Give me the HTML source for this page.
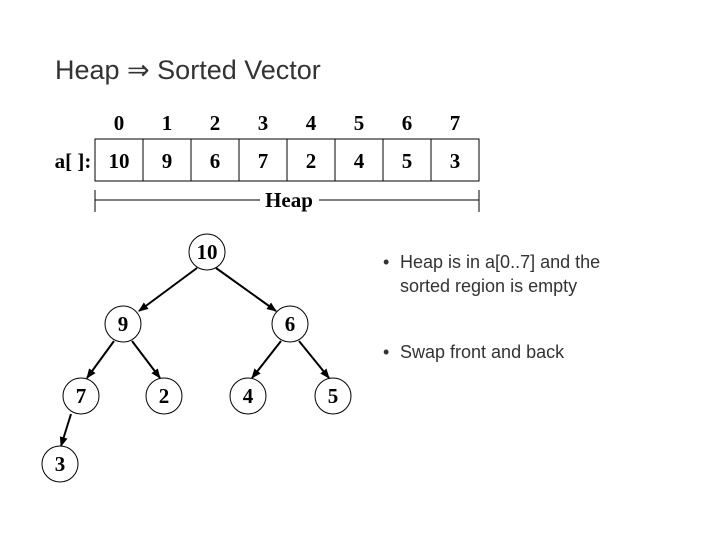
<!DOCTYPE html>
<html><head><style>
body{margin:0;width:720px;height:540px;background:#fff;overflow:hidden}
</style></head><body>
<svg width="720" height="540" xmlns="http://www.w3.org/2000/svg">
<defs><marker id="a" markerWidth="10" markerHeight="8" refX="9" refY="4" orient="auto" markerUnits="userSpaceOnUse"><path d="M0,0 L10,4 L0,8 z" fill="#000"/></marker></defs>
<text x="55" y="79" font-family="Liberation Sans, sans-serif" font-size="27" fill="#333">Heap ⇒ Sorted Vector</text>
<g font-family="Liberation Serif, serif" font-weight="bold" font-size="21" text-anchor="middle" fill="#000">
<text x="119" y="130">0</text><text x="167" y="130">1</text><text x="215" y="130">2</text><text x="263" y="130">3</text><text x="311" y="130">4</text><text x="359" y="130">5</text><text x="407" y="130">6</text><text x="455" y="130">7</text>
<text x="73" y="168">a[ ]:</text>
<text x="119" y="168">10</text><text x="167" y="168">9</text><text x="215" y="168">6</text><text x="263" y="168">7</text><text x="311" y="168">2</text><text x="359" y="168">4</text><text x="407" y="168">5</text><text x="455" y="168">3</text>
<text x="289" y="207">Heap</text>
</g>
<g stroke="#000" stroke-width="1" fill="none">
<rect x="95" y="139" width="384" height="42"/>
<line x1="143" y1="139" x2="143" y2="181"/><line x1="191" y1="139" x2="191" y2="181"/><line x1="239" y1="139" x2="239" y2="181"/><line x1="287" y1="139" x2="287" y2="181"/><line x1="335" y1="139" x2="335" y2="181"/><line x1="383" y1="139" x2="383" y2="181"/><line x1="431" y1="139" x2="431" y2="181"/>
<line x1="95" y1="200" x2="260" y2="200"/><line x1="319" y1="200" x2="479" y2="200"/>
<line x1="95" y1="190" x2="95" y2="212"/><line x1="479" y1="190" x2="479" y2="212"/>
</g>
<g stroke="#000" stroke-width="2" marker-end="url(#a)">
<line x1="197" y1="268" x2="139" y2="311"/>
<line x1="216" y1="268" x2="276" y2="311"/>
<line x1="114" y1="341" x2="87" y2="378"/>
<line x1="132" y1="341" x2="160" y2="378"/>
<line x1="281" y1="341" x2="252" y2="378"/>
<line x1="299" y1="341" x2="329" y2="378"/>
<line x1="71" y1="414" x2="61" y2="446"/>
</g>
<g stroke="#000" stroke-width="1" fill="#fff">
<circle cx="207" cy="252" r="18"/><circle cx="123" cy="324" r="18"/><circle cx="290" cy="324" r="18"/>
<circle cx="81" cy="396" r="18"/><circle cx="164" cy="396" r="18"/><circle cx="248" cy="396" r="18"/><circle cx="333" cy="396" r="18"/><circle cx="60" cy="464" r="18"/>
</g>
<g font-family="Liberation Serif, serif" font-weight="bold" font-size="21" text-anchor="middle">
<text x="207" y="259">10</text><text x="123" y="331">9</text><text x="290" y="331">6</text><text x="81" y="403">7</text><text x="164" y="403">2</text><text x="248" y="403">4</text><text x="333" y="403">5</text><text x="60" y="471">3</text>
</g>
<g font-family="Liberation Sans, sans-serif" font-size="18" fill="#333">
<text x="383" y="268">•</text><text x="400" y="268">Heap is in a[0..7] and the</text>
<text x="400" y="292">sorted region is empty</text>
<text x="383" y="358">•</text><text x="400" y="358">Swap front and back</text>
</g>
</svg>
</body></html>
